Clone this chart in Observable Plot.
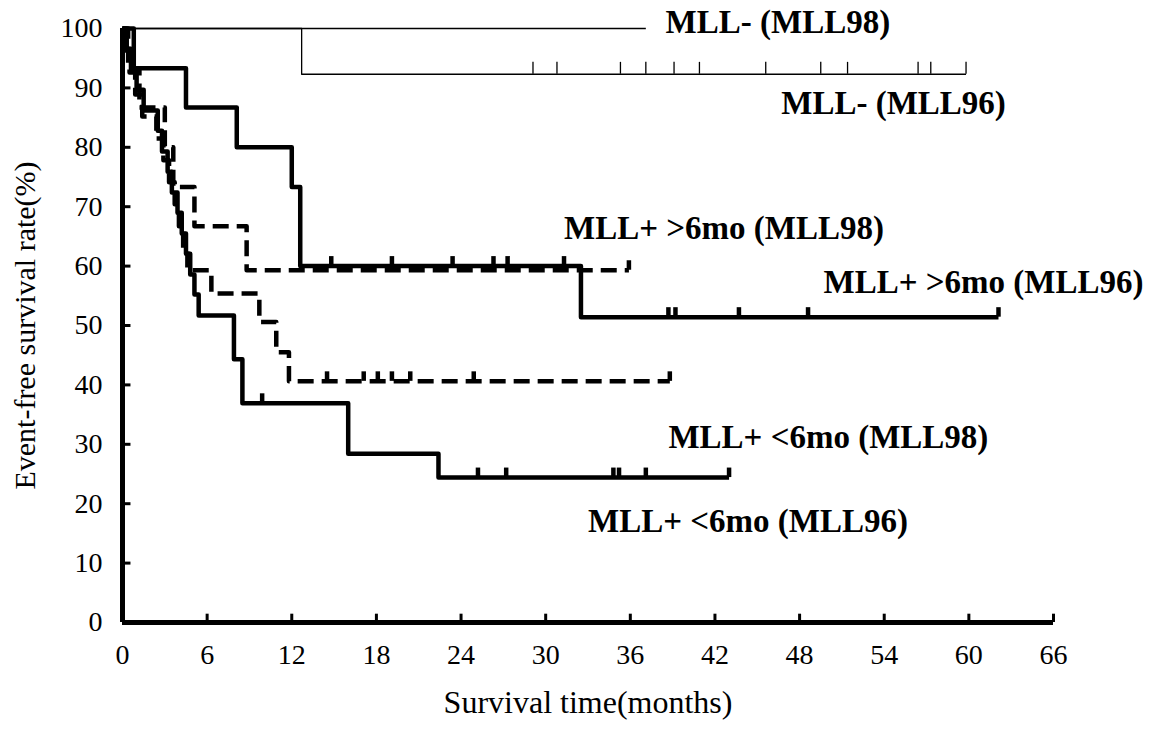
<!DOCTYPE html>
<html><head><meta charset="utf-8">
<script src="https://cdn.jsdelivr.net/npm/d3@7"></script>
<script src="https://cdn.jsdelivr.net/npm/@observablehq/plot@0.6"></script>
<style>body{margin:0;background:#fff;}</style>
</head><body><div id="chart"></div>
<script>
// ---- tick values ----
const xTicks = [0, 6, 12, 18, 24, 30, 36, 42, 48, 54, 60, 66];
const yTicks = [0, 10, 20, 30, 40, 50, 60, 70, 80, 90, 100];

// ---- MLL- (MLL98) ----
const neg98Time = [0, 37.1];
const neg98Surv = [100, 100];

// ---- MLL- (MLL96) ----
const neg96Time = [0, 12.7, 59.8];
const neg96Surv = [100, 92.3, 92.3];
const neg96Cens = [29.1, 30.8, 35.3, 37.1, 39.1, 40.9, 45.6, 49.5, 51.4, 56.4, 57.3, 59.8];

// ---- MLL+ >6mo (MLL96) ----
const gt96Time = [0, 0.8, 4.5, 8.1, 12.0, 12.6, 32.5, 62.1];
const gt96Surv = [100, 93.3, 86.7, 80, 73.3, 60, 51.4, 51.4];
const gt96CensA = [14.8, 19.1, 23.4, 26.3, 27.3, 31.3];
const gt96CensB = [38.7, 39.2, 43.7, 48.6, 62.1];

// ---- MLL+ >6mo (MLL98) ----
const gt98Time = [0, 0.4, 1.2, 3.0, 3.6, 5.1, 8.8, 35.9];
const gt98Surv = [100, 93.3, 86.7, 80, 73.3, 66.7, 59.3, 59.3];
const gt98Cens = [35.9];

// ---- MLL+ <6mo (MLL98) ----
const lt98Time = [0, 0.2, 0.5, 0.9, 1.4, 2.4, 2.9, 3.3, 3.7, 4.0, 4.3, 4.6, 6.3, 9.7, 10.9, 11.8, 38.8];
const lt98Surv = [100, 96.3, 92.6, 88.9, 85.2, 81.5, 77.8, 74.1, 70.4, 66.7, 63, 59.3, 55.4, 50.6, 45.5, 40.6, 40.6];
const lt98Cens = [14.5, 17.1, 18.1, 19.1, 20.4, 24.9, 38.8];

// ---- MLL+ <6mo (MLL96) ----
const lt96Time = [0, 0.3, 0.6, 1.0, 1.5, 2.5, 2.8, 3.2, 3.5, 3.9, 4.2, 4.5, 4.8, 5.1, 5.4, 7.9, 8.5, 16.0, 22.4, 43.0];
const lt96Surv = [100, 96.6, 93.1, 89.7, 86.2, 82.8, 79.3, 75.9, 72.4, 69, 65.5, 62.1, 58.6, 55.2, 51.7, 44.3, 36.9, 28.4, 24.4, 24.4];
const lt96CensA = [9.9];
const lt96CensB = [25.2, 27.2, 34.8, 35.2, 37.1, 43.0];

// ---- curve labels ----
const labelText = ["MLL- (MLL98)", "MLL- (MLL96)", "MLL+ >6mo (MLL98)", "MLL+ >6mo (MLL96)", "MLL+ <6mo (MLL98)", "MLL+ <6mo (MLL96)"];
const labelX = [38.5, 46.7, 31.3, 49.7, 38.7, 33.0];
const labelY = [101, 87.4, 66.3, 57.2, 31.1, 17.0];

const steps = (t, s) => t.map((d, i) => ({t: d, s: s[i]}));
const cens = (ts, level) => ts.map(t => ({t, s: level}));
const labels = labelText.map((text, i) => ({text, x: labelX[i], y: labelY[i]}));

const THICK = 4.5, DASH = "16,8";
function curve(t, s, w, dash) {
  return Plot.line(steps(t, s), {x: "t", y: "s", curve: "step-after", stroke: "black", strokeWidth: w, strokeDasharray: dash, strokeLinecap: "butt"});
}
function censor(ts, level, w, h) {
  return Plot.ruleX(cens(ts, level), {x: "t", y1: "s", y2: d => d.s + h, stroke: "black", strokeWidth: w});
}

const chart = Plot.plot({
  width: 1167, height: 733,
  marginLeft: 122, marginRight: 114, marginTop: 28, marginBottom: 111,
  x: {domain: [0, 66]},
  y: {domain: [0, 100]},
  style: {fontFamily: "'Liberation Serif', 'Times New Roman', serif", fontSize: "28px", color: "black", background: "white"},
  marks: [
    Plot.axisX(xTicks, {tickSize: 0, tickPadding: 22, fontSize: 28, label: null}),
    Plot.axisY(yTicks, {tickSize: 0, tickPadding: 20, fontSize: 28, label: null}),
    Plot.ruleX(xTicks.filter(d => d > 0), {y1: 0, y2: 1.4, stroke: "black", strokeWidth: 3}),
    Plot.ruleY(yTicks.filter(d => d > 0), {x1: 0, x2: 0.6, stroke: "black", strokeWidth: 3}),
    curve(neg98Time, neg98Surv, 1.6, null),
    curve(neg96Time, neg96Surv, 1.3, null),
    censor(neg96Cens, 92.3, 1.3, 2),
    curve(gt96Time, gt96Surv, THICK, null),
    censor(gt96CensA, 60, THICK, 1.6),
    censor(gt96CensB, 51.4, THICK, 1.6),
    curve(gt98Time, gt98Surv, THICK, DASH),
    censor(gt98Cens, 59.3, THICK, 1.6),
    curve(lt98Time, lt98Surv, THICK, DASH),
    censor(lt98Cens, 40.6, THICK, 1.6),
    curve(lt96Time, lt96Surv, THICK, null),
    censor(lt96CensA, 36.9, THICK, 1.6),
    censor(lt96CensB, 24.4, THICK, 1.6),
    Plot.ruleX([0], {stroke: "black", strokeWidth: 5}),
    Plot.ruleY([0], {stroke: "black", strokeWidth: 5}),
    Plot.text(labels, {x: "x", y: "y", text: "text", textAnchor: "start", fontWeight: "bold", fontSize: 33, fill: "black"}),
    Plot.text(["Survival time(months)"], {frameAnchor: "bottom", dy: 90, fontSize: 32, fill: "black"}),
    Plot.text(["Event-free survival rate(%)"], {frameAnchor: "left", textAnchor: "middle", dx: -97, rotate: -90, fontSize: 30, fill: "black"})
  ]
});
document.getElementById("chart").appendChild(chart);
</script>
</body></html>
